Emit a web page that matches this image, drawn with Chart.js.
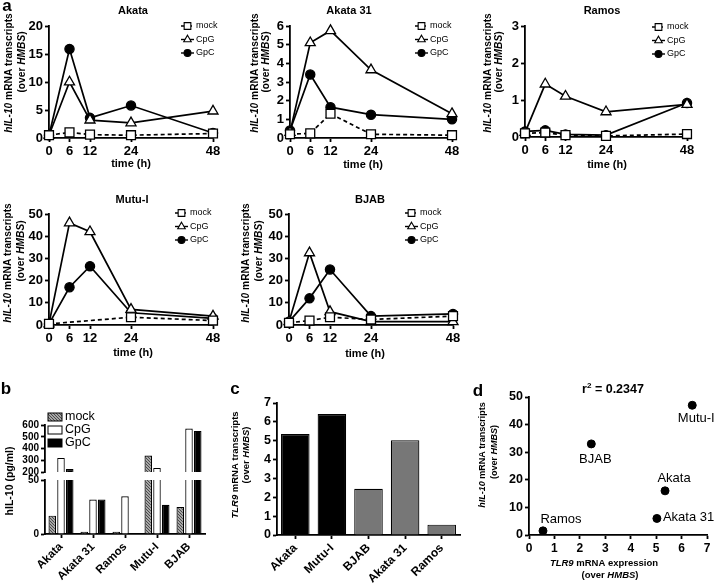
<!DOCTYPE html>
<html>
<head>
<meta charset="utf-8">
<script src="https://cdn.jsdelivr.net/npm/chart.js@4.4.1/dist/chart.umd.min.js"></script>
<style>
  body { margin: 0; background: #fff; }
  #fig { position: relative; width: 716px; height: 587px; overflow: hidden; }
  #fig canvas { position: absolute; }
</style>
</head>
<body>
<div id="fig"></div>
<script>
// panel a: hIL-10 mRNA over time (h)
var times = [0, 6, 12, 24, 48];
var akataMock = [0.5, 1.0, 0.6, 0.5, 0.8];
var akataCpG = [0.5, 10.0, 3.2, 2.7, 4.8];
var akataGpC = [0.5, 15.9, 3.6, 5.8, 0.9];
var akata31Mock = [0.2, 0.25, 1.3, 0.2, 0.15];
var akata31CpG = [0.3, 5.1, 5.75, 3.65, 1.3];
var akata31GpC = [0.4, 3.4, 1.65, 1.25, 1.0];
var ramosMock = [0.1, 0.12, 0.05, 0.03, 0.08];
var ramosCpG = [0.12, 1.43, 1.1, 0.68, 0.88];
var ramosGpC = [0.15, 0.18, 0.07, 0.05, 0.92];
var mutuMock = [0.5, null, null, 3.5, 2.0];
var mutuCpG = [0.5, 46, 42, 7, 4];
var mutuGpC = [0.5, 17, 26.5, 5.5, 3];
var bjabMock = [1.0, 2.0, 3.5, 2.5, 4.0];
var bjabCpG = [1.5, 32.5, 6.0, 1.5, 1.5];
var bjabGpC = [1.5, 12.0, 25.0, 4.0, 5.0];

// panel b: secreted hIL-10 (pg/ml)
var cellsB = ['Akata', 'Akata 31', 'Ramos', 'Mutu-I', 'BJAB'];
var il10Mock = [17, 2, 2, 340, 25];
var il10CpG = [320, 32, 35, 235, 570];
var il10GpC = [225, 32, 1, 27, 550];

// panel c / d: TLR9 expression and peak hIL-10
var cellsC = ['Akata', 'Mutu-I', 'BJAB', 'Akata 31', 'Ramos'];
var tlr9 = [5.35, 6.42, 2.45, 5.03, 0.55];
var il10Peak = [16, 47, 33, 6, 1.5];
var labelOffsets = [[9, -12, 'center'], [4, 13, 'center'], [4, 16, 'center'], [6, -1, 'left'], [18, -11, 'center']];

var FONT = '"Liberation Sans", Arial, Helvetica, sans-serif';
Chart.defaults.font.family = FONT;
Chart.defaults.color = '#000';
Chart.defaults.animation = false;
Chart.defaults.plugins.legend.display = false;
Chart.defaults.plugins.tooltip.enabled = false;

function addCanvas(b) {
  var c = document.createElement('canvas');
  c.width = b[2]; c.height = b[3];
  c.style.left = b[0] + 'px'; c.style.top = b[1] + 'px';
  c.style.width = b[2] + 'px'; c.style.height = b[3] + 'px';
  document.getElementById('fig').appendChild(c);
  return c;
}

function drawText(ctx, it) {
  var parts = typeof it.t === 'string' ? [[it.t, '']] : it.t;
  var size = it.size || 11;
  var weight = it.bold === false ? 'normal' : 'bold';
  function font(st) {
    var s = st.indexOf('s') >= 0 ? size * 0.65 : size;
    return (st.indexOf('i') >= 0 ? 'italic ' : '') + weight + ' ' + s + 'px ' + FONT;
  }
  var total = 0, widths = [];
  parts.forEach(function (p) {
    ctx.font = font(p[1]);
    var w = ctx.measureText(p[0]).width;
    widths.push(w); total += w;
  });
  ctx.save();
  ctx.translate(it.x, it.y);
  if (it.rot) ctx.rotate(it.rot * Math.PI / 180);
  ctx.fillStyle = '#000';
  ctx.textBaseline = 'middle';
  ctx.textAlign = 'left';
  var x = it.align === 'left' ? 0 : it.align === 'right' ? -total : -total / 2;
  parts.forEach(function (p, i) {
    ctx.font = font(p[1]);
    ctx.fillText(p[0], x, p[1].indexOf('s') >= 0 ? -size * 0.35 : 0);
    x += widths[i];
  });
  ctx.restore();
}

// extra drawing per chart: free text, legends, point labels (page coordinates)
function decoPlugin(cfg) {
  return {
    id: 'deco',
    afterDraw: function (chart) {
      var ctx = chart.ctx;
      ctx.save();
      ctx.translate(-cfg.box[0], -cfg.box[1]);
      (cfg.texts || []).forEach(function (t) { drawText(ctx, t); });
      if (cfg.legend) {
        var lg = cfg.legend;
        chart.data.datasets.forEach(function (ds, i) {
          var y = lg.y + i * 13.5;
          ctx.strokeStyle = '#000';
          ctx.lineWidth = 1.4;
          ctx.setLineDash(ds.borderDash || []);
          ctx.beginPath(); ctx.moveTo(lg.x, y); ctx.lineTo(lg.x + 13, y); ctx.stroke();
          ctx.setLineDash([]);
          ctx.fillStyle = ds.pointBackgroundColor;
          ctx.lineWidth = 1.1;
          Chart.helpers.drawPoint(ctx, {pointStyle: ds.pointStyle, radius: ds.pointRadius * 0.75, borderWidth: 1.1, rotation: 0}, lg.x + 6.5, y);
          drawText(ctx, {x: lg.x + 15, y: y, t: ds.label, size: 9, bold: false, align: 'left'});
        });
      }
      if (cfg.barLegend) {
        var bl = cfg.barLegend;
        chart.data.datasets.forEach(function (ds, i) {
          var y = bl.y + i * 13;
          ctx.fillStyle = ds.backgroundColor;
          ctx.strokeStyle = '#000';
          ctx.lineWidth = 1;
          ctx.fillRect(bl.x, y - 4, 14, 8);
          ctx.strokeRect(bl.x, y - 4, 14, 8);
          drawText(ctx, {x: bl.x + 17, y: y, t: ds.label, size: 12.5, bold: false, align: 'left'});
        });
      }
      ctx.restore();
      if (cfg.pointLabels) {
        var meta = chart.getDatasetMeta(0);
        meta.data.forEach(function (el, i) {
          var o = labelOffsets[i];
          drawText(ctx, {x: el.x + o[0], y: el.y + o[1], t: cellsC[i], size: 13, bold: false, align: o[2]});
        });
      }
    }
  };
}

function axisStyle(size, extra) {
  var s = {
    ticks: {color: '#000', font: {size: size, weight: 'bold'}, padding: 2, autoSkip: false},
    grid: {drawOnChartArea: false, drawTicks: true, tickLength: 4, tickWidth: 1.8, tickColor: '#000', color: '#000'},
    border: {color: '#000', width: 1.8}
  };
  for (var k in extra) {
    if (s[k] && typeof extra[k] === 'object') Object.assign(s[k], extra[k]);
    else s[k] = extra[k];
  }
  return s;
}

var HIL10 = [['hIL-10', 'i'], [' mRNA transcripts', '']];
var OVER = [['(over ', ''], ['HMBS', 'i'], [')', '']];

function lineChart(p) {
  var b = p.box, a = p.area;
  function pts(arr) { return times.map(function (t, i) { return {x: t, y: arr[i]}; }); }
  function series(label, arr, style, r, fill, dash) {
    return {label: label, data: pts(arr), borderColor: '#000', backgroundColor: '#000', borderWidth: 1.7,
      borderDash: dash, pointStyle: style, pointRadius: r, pointBackgroundColor: fill,
      pointBorderColor: '#000', pointBorderWidth: 1.3, clip: false, spanGaps: true, tension: 0};
  }
  var texts = [
    {x: p.title[0], y: p.title[1], t: p.name, size: 11},
    {x: p.time[0], y: p.time[1], t: 'time (h)', size: 11},
    {x: p.ytx[0], y: p.yty[0], rot: -90, t: HIL10, size: 10.2},
    {x: p.ytx[1], y: p.yty[1], rot: -90, t: OVER, size: 10.2}
  ].concat(p.extra || []);
  return new Chart(addCanvas(b), {
    type: 'line',
    data: {datasets: [
      series('mock', p.mock, 'rect', 6.3, '#fff', [4, 3]),
      series('CpG', p.cpg, 'triangle', 5.8, '#fff', []),
      series('GpC', p.gpc, 'circle', 4.6, '#000', [])
    ]},
    options: {
      responsive: false, devicePixelRatio: 1,
      layout: {padding: {left: 0, top: a[1] - b[1], right: b[0] + b[2] - a[2], bottom: 0}},
      scales: {
        x: axisStyle(13, {type: 'linear', min: 0, max: 48,
          afterBuildTicks: function (s) { s.ticks = times.map(function (v) { return {value: v}; }); },
          afterFit: function (s) { s.height = b[1] + b[3] - a[3]; },
          ticks: {maxRotation: 0}}),
        y: axisStyle(13, {min: 0, max: p.yMax,
          afterFit: function (s) { s.width = a[0] - b[0]; },
          ticks: {stepSize: p.step}})
      }
    },
    plugins: [decoPlugin({box: b, texts: texts, legend: {x: p.legend[0], y: p.legend[1]}})]
  });
}

lineChart({name: 'Akata', box: [0, 0, 232, 180], area: [49, 26, 213, 138], yMax: 20, step: 5,
  mock: akataMock, cpg: akataCpG, gpc: akataGpC, title: [133, 11], time: [131, 164],
  ytx: [9, 22], yty: [73, 62], legend: [181, 26],
  extra: [{x: 7, y: 6, t: 'a', size: 17}]});
lineChart({name: 'Akata 31', box: [232, 0, 236, 180], area: [290, 26, 452, 138], yMax: 6, step: 1,
  mock: akata31Mock, cpg: akata31CpG, gpc: akata31GpC, title: [349, 11], time: [363, 165],
  ytx: [255, 266], yty: [73, 62], legend: [415, 26]});
lineChart({name: 'Ramos', box: [468, 0, 248, 180], area: [525, 26, 687, 137], yMax: 3, step: 1,
  mock: ramosMock, cpg: ramosCpG, gpc: ramosGpC, title: [602, 11], time: [607, 165],
  ytx: [488, 499], yty: [73, 62], legend: [652, 27]});
lineChart({name: 'Mutu-I', box: [0, 185, 232, 185], area: [49, 214, 213, 325], yMax: 50, step: 10,
  mock: mutuMock, cpg: mutuCpG, gpc: mutuGpC, title: [132, 200], time: [133, 353],
  ytx: [8, 21], yty: [263, 251], legend: [175, 213]});
lineChart({name: 'BJAB', box: [232, 185, 236, 185], area: [289, 214, 453, 325], yMax: 50, step: 10,
  mock: bjabMock, cpg: bjabCpG, gpc: bjabGpC, title: [370, 200], time: [365, 354],
  ytx: [246, 259], yty: [263, 251], legend: [405, 213]});

// panel b: broken y axis drawn as two stacked charts sharing the x layout
function hatch() {
  var c = document.createElement('canvas');
  c.width = 3; c.height = 3;
  var g = c.getContext('2d');
  g.fillStyle = '#a6a6a6'; g.fillRect(0, 0, 3, 3);
  g.fillStyle = '#4a4a4a'; g.fillRect(0, 0, 1, 1); g.fillRect(1, 1, 1, 1); g.fillRect(2, 2, 1, 1);
  return g.createPattern(c, 'repeat');
}
var mockFill = hatch();

function barDatasets() {
  return [
    {label: 'mock', data: il10Mock, backgroundColor: mockFill},
    {label: 'CpG', data: il10CpG, backgroundColor: '#fff'},
    {label: 'GpC', data: il10GpC, backgroundColor: '#000'}
  ];
}
var boxB = [0, 378, 228, 209];
var barOpts = {borderColor: '#000', borderWidth: 1.2, categoryPercentage: 0.82, barPercentage: 0.86};

new Chart(addCanvas(boxB), {
  type: 'bar',
  data: {labels: cellsB, datasets: barDatasets()},
  options: {
    responsive: false, devicePixelRatio: 1,
    layout: {padding: {left: 0, top: 425 - boxB[1], right: 228 - 205, bottom: 587 - 472}},
    datasets: {bar: barOpts},
    scales: {
      x: {display: false},
      y: axisStyle(10, {min: 200, max: 600, ticks: {stepSize: 100},
        afterFit: function (s) { s.width = 45; }})
    }
  },
  plugins: [decoPlugin({box: boxB, barLegend: {x: 48, y: 417}})]
});

new Chart(addCanvas(boxB), {
  type: 'bar',
  data: {labels: cellsB, datasets: barDatasets()},
  options: {
    responsive: false, devicePixelRatio: 1,
    layout: {padding: {left: 0, top: 480 - boxB[1], right: 228 - 205, bottom: 0}},
    datasets: {bar: barOpts},
    scales: {
      x: axisStyle(11.5, {grid: {offset: false},
        ticks: {minRotation: 45, maxRotation: 45},
        afterFit: function (s) { s.height = 587 - 534; }}),
      y: axisStyle(10, {min: 0, max: 50, ticks: {stepSize: 50},
        afterFit: function (s) { s.width = 45; }})
    }
  },
  plugins: [decoPlugin({box: boxB, texts: [
    {x: 6, y: 389, t: 'b', size: 17},
    {x: 10, y: 481, rot: -90, t: 'hIL-10 (pg/ml)', size: 10.5}
  ]})]
});

// panel c: TLR9 transcripts
var boxC = [228, 378, 244, 209];
new Chart(addCanvas(boxC), {
  type: 'bar',
  data: {labels: cellsC, datasets: [{label: 'TLR9', data: tlr9,
    backgroundColor: ['#000', '#000', '#777', '#777', '#777'],
    borderColor: '#000', borderWidth: 1.2, categoryPercentage: 1, barPercentage: 0.78}]},
  options: {
    responsive: false, devicePixelRatio: 1,
    layout: {padding: {left: 0, top: 403 - boxC[1], right: 472 - 460, bottom: 0}},
    scales: {
      x: axisStyle(12, {grid: {offset: false},
        ticks: {minRotation: 45, maxRotation: 45},
        afterFit: function (s) { s.height = 587 - 535; }}),
      y: axisStyle(12.5, {min: 0, max: 7, ticks: {stepSize: 1},
        afterFit: function (s) { s.width = 277 - 228; }})
    }
  },
  plugins: [decoPlugin({box: boxC, texts: [
    {x: 235, y: 389, t: 'c', size: 17},
    {x: 235, y: 465, rot: -90, t: [['TLR9', 'i'], [' mRNA transcripts', '']], size: 9.5},
    {x: 246, y: 455, rot: -90, t: OVER, size: 9.5}
  ]})]
});

// panel d: correlation
var boxD = [472, 370, 244, 217];
new Chart(addCanvas(boxD), {
  type: 'scatter',
  data: {datasets: [{label: 'cells', data: tlr9.map(function (v, i) { return {x: v, y: il10Peak[i]}; }),
    pointRadius: 4, backgroundColor: '#000', borderColor: '#000'}]},
  options: {
    responsive: false, devicePixelRatio: 1,
    layout: {padding: {left: 0, top: 397 - 370, right: 716 - 707, bottom: 0}},
    scales: {
      x: axisStyle(12, {min: 0, max: 7, ticks: {stepSize: 1},
        afterFit: function (s) { s.height = 587 - 535; }}),
      y: axisStyle(12.5, {min: 0, max: 50, ticks: {stepSize: 10},
        afterFit: function (s) { s.width = 529 - 472; }})
    }
  },
  plugins: [decoPlugin({box: boxD, pointLabels: true, texts: [
    {x: 478, y: 391, t: 'd', size: 17},
    {x: 613, y: 390, t: [['r', ''], ['2', 's'], [' = 0.2347', '']], size: 12.5},
    {x: 483, y: 455, rot: -90, t: HIL10, size: 9},
    {x: 495, y: 452, rot: -90, t: OVER, size: 9},
    {x: 604, y: 563, t: [['TLR9', 'i'], [' mRNA expression', '']], size: 9.5},
    {x: 610, y: 575, t: OVER, size: 9.5}
  ]})]
});
</script>
</body>
</html>
